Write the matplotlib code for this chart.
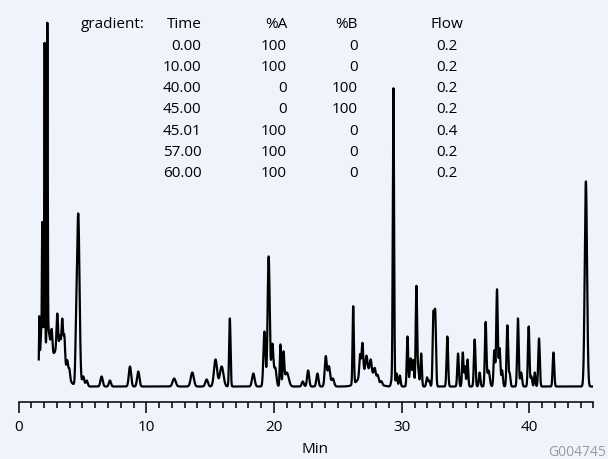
import numpy as np
import matplotlib
matplotlib.use("Agg")
import matplotlib.pyplot as plt

plt.rcParams['font.family'] = ['Open Sans', 'DejaVu Sans']

# Chromatogram peak table: retention time (min), height (signal units), width (sigma, min)
peak_time = [
    1.62, 1.85, 2.04, 2.25, 1.85, 2.30,
    2.59, 3.03, 3.24, 3.42, 3.58, 3.00, 3.81, 3.97,
    4.50, 4.67, 5.06, 5.33, 6.50, 7.15, 8.72, 9.37,
    12.18, 13.60, 14.72, 15.42, 15.90, 16.54, 18.38,
    19.25, 19.58, 19.87, 20.10, 20.50, 20.74, 21.00,
    22.25, 22.67, 23.40, 24.05, 24.30, 24.60,
    26.20, 26.74, 26.92, 27.24, 27.57, 27.89, 28.12, 28.41, 27.30,
    29.20, 29.35, 29.60, 29.85,
    30.45, 30.70, 30.90, 31.15, 31.30, 31.52, 31.98, 32.15, 32.48, 32.62,
    33.57, 34.41, 34.78, 34.95, 35.15, 35.71, 36.10, 36.57,
    36.80, 37.25, 37.46, 37.66, 37.86, 38.27, 38.45, 39.10, 39.35,
    39.94, 40.15, 40.42, 40.75, 41.88, 44.42,
]
peak_height = [
    50, 100, 300, 310, 60, 40,
    24, 37, 18, 40, 30, 36, 14, 10,
    35, 172, 10, 6, 10, 6, 20, 15,
    8, 14, 7, 27, 20, 68, 13,
    55, 130, 42, 18, 42, 32, 14,
    5, 16, 13, 30, 20, 8,
    78, 22, 30, 14, 12, 9, 6, 3, 17,
    5, 298, 13, 11,
    50, 28, 26, 100, 16, 33, 9, 6, 70, 72,
    50, 33, 34, 20, 27, 47, 14, 64,
    16, 36, 97, 38, 16, 61, 13, 68, 14,
    60, 10, 14, 48, 34, 205,
]
peak_width = [
    0.025, 0.025, 0.03, 0.03, 0.15, 0.15,
    0.06, 0.06, 0.06, 0.06, 0.06, 0.55, 0.06, 0.06,
    0.06, 0.10, 0.08, 0.08, 0.09, 0.08, 0.09, 0.09,
    0.12, 0.12, 0.10, 0.12, 0.14, 0.055, 0.10,
    0.08, 0.08, 0.08, 0.09, 0.05, 0.06, 0.15,
    0.08, 0.08, 0.08, 0.08, 0.09, 0.10,
    0.05, 0.06, 0.06, 0.07, 0.07, 0.07, 0.07, 0.07, 0.55,
    0.06, 0.05, 0.06, 0.06,
    0.055, 0.07, 0.06, 0.055, 0.06, 0.055, 0.06, 0.06, 0.06, 0.06,
    0.06, 0.06, 0.055, 0.05, 0.055, 0.06, 0.06, 0.06,
    0.09, 0.06, 0.06, 0.06, 0.06, 0.06, 0.06, 0.06, 0.07,
    0.06, 0.06, 0.05, 0.06, 0.06, 0.09,
]

run_start, run_end = 1.58, 45.0

# Gradient program table
grad_time = ["0.00", "10.00", "40.00", "45.00", "45.01", "57.00", "60.00"]
grad_a = ["100", "100", "0", "0", "100", "100", "100"]
grad_b = ["0", "0", "100", "100", "0", "0", "0"]
grad_flow = ["0.2", "0.2", "0.2", "0.2", "0.4", "0.2", "0.2"]

x_ticks_major = [0, 10, 20, 30, 40]

bg = "#eff3fb"
W, H = 608, 460

t = np.arange(run_start, run_end, 0.002)
signal = np.zeros_like(t)
for rt, ht, sd in zip(peak_time, peak_height, peak_width):
    signal += ht * np.exp(-0.5 * ((t - rt) / sd) ** 2)

fig = plt.figure(figsize=(W / 100, H / 100), dpi=100, facecolor=bg)
x_left, x_right = 18.6, 593.3
y_axis, y_top = 403.0, 5.0
ax = fig.add_axes([x_left / W, 1 - y_axis / H, (x_right - x_left) / W, (y_axis - y_top) / H])
ax.set_facecolor(bg)
ax.plot(t, signal, color="black", lw=1.6)
ax.set_xlim(0, 45)
ax.set_ylim(-15.5, 382.5)

for side in ("left", "right", "top"):
    ax.spines[side].set_visible(False)
ax.spines["bottom"].set_linewidth(1.1)
ax.set_yticks([])
ax.set_xticks(x_ticks_major)
ax.set_xticklabels([str(v) for v in x_ticks_major])
ax.set_xticks(np.arange(0, 46, 1), minor=True)
ax.tick_params(axis="x", which="major", direction="out", length=8, width=1.1, pad=4,
               labelsize=11, colors="black")
ax.tick_params(axis="x", which="minor", direction="out", length=4.3, width=1.1)

fig.text(315 / W, 1 - 450 / H, "Min", ha="center", va="center", fontsize=11)
fig.text(606 / W, 1 - 453 / H, "G004745", ha="right", va="center", fontsize=10, color="#9a9a9a")

# Gradient table
fs = 11
base0, step = 28.3, 21.3
fig.text(145 / W, 1 - base0 / H, "gradient:", ha="right", va="baseline", fontsize=fs)
fig.text(201.5 / W, 1 - base0 / H, "Time", ha="right", va="baseline", fontsize=fs)
fig.text(287 / W, 1 - base0 / H, "%A", ha="right", va="baseline", fontsize=fs)
fig.text(358 / W, 1 - base0 / H, "%B", ha="right", va="baseline", fontsize=fs)
fig.text(447 / W, 1 - base0 / H, "Flow", ha="center", va="baseline", fontsize=fs)
for i, (tm, a, b, fl) in enumerate(zip(grad_time, grad_a, grad_b, grad_flow)):
    yb = 1 - (base0 + step * (i + 1)) / H
    fig.text(201.5 / W, yb, tm, ha="right", va="baseline", fontsize=fs)
    fig.text(287 / W, yb, a, ha="right", va="baseline", fontsize=fs)
    fig.text(358 / W, yb, b, ha="right", va="baseline", fontsize=fs)
    fig.text(447 / W, yb, fl, ha="center", va="baseline", fontsize=fs)

fig.savefig("out.png", dpi=100, facecolor=bg)
